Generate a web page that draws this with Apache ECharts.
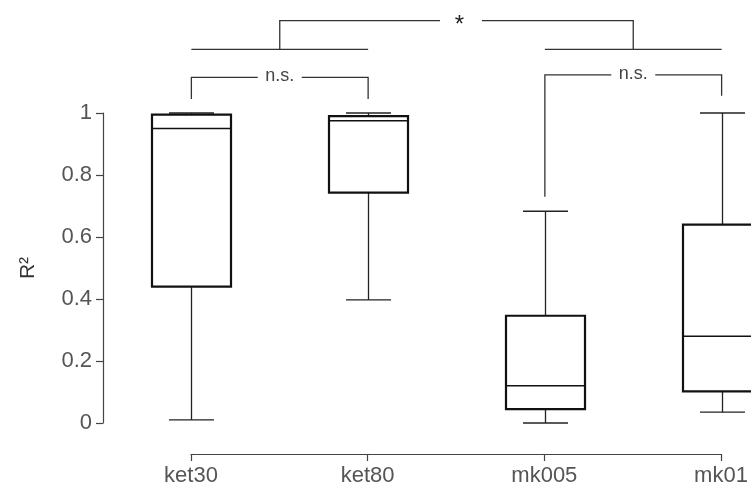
<!DOCTYPE html>
<html>
<head>
<meta charset="utf-8">
<script src="https://cdn.jsdelivr.net/npm/echarts@6/dist/echarts.min.js"></script>
<style>
  html, body { margin: 0; padding: 0; background: #fff; }
  #main { width: 751px; height: 491px; }
</style>
</head>
<body>
<div id="main"></div>
<script>
// box data
const categories = ['ket30', 'ket80', 'mk005', 'mk01'];
const whiskerLow = [0.01, 0.397, 0.0, 0.035];
const q1 = [0.44, 0.743, 0.045, 0.102];
const median = [0.95, 0.975, 0.12, 0.28];
const q3 = [0.995, 0.99, 0.346, 0.64];
const whiskerHigh = [1.0, 1.0, 0.683, 1.0];
const yTicks = [0, 0.2, 0.4, 0.6, 0.8, 1];

// significance brackets (pairs), in data units
const pairLeft = [0, 2];
const pairRight = [1, 3];
const pairLabel = ['n.s.', 'n.s.'];
const pairTop = [1.115, 1.123];
const pairLegLeft = [1.045, 0.73];
const pairLegRight = [1.045, 1.056];
// group comparison (ket vs mk)
const groupLevel = 1.205;
const groupTop = 1.298;
const groupLabel = '*';

const FONT = "'Liberation Sans', Arial, sans-serif";
const LINE = '#333';

var myChart = echarts.init(document.getElementById('main'));

function boxItem(params, api) {
    const x = api.value(0);
    const lo = api.coord([x, api.value(1)]);
    const b1 = api.coord([x, api.value(2)]);
    const md = api.coord([x, api.value(3)]);
    const b3 = api.coord([x, api.value(4)]);
    const hi = api.coord([x, api.value(5)]);
    const band = api.size([1, 0])[0];
    const boxW = band * 0.447;
    const capW = band * 0.255;
    const cx = Math.round(lo[0]) + 0.5;
    const thin = { stroke: '#222', lineWidth: 1.3, fill: null };
    return {
        type: 'group',
        children: [
            { type: 'line', shape: { x1: cx, y1: hi[1], x2: cx, y2: b3[1] }, style: thin },
            { type: 'line', shape: { x1: cx, y1: b1[1], x2: cx, y2: lo[1] }, style: thin },
            { type: 'line', shape: { x1: cx - capW / 2, y1: hi[1], x2: cx + capW / 2, y2: hi[1] }, style: thin },
            { type: 'line', shape: { x1: cx - capW / 2, y1: lo[1], x2: cx + capW / 2, y2: lo[1] }, style: thin },
            {
                type: 'rect',
                shape: { x: cx - boxW / 2, y: b3[1], width: boxW, height: b1[1] - b3[1] },
                style: { stroke: '#111', lineWidth: 2.2, fill: 'rgba(0,0,0,0)' }
            },
            { type: 'line', shape: { x1: cx - boxW / 2, y1: md[1], x2: cx + boxW / 2, y2: md[1] }, style: { stroke: '#111', lineWidth: 1.5 } }
        ]
    };
}

function bracketItem(params, api) {
    const i = params.dataIndex;
    const st = { stroke: LINE, lineWidth: 1.3, fill: null };
    const gap = 22;
    if (i < pairLeft.length) {
        const a = api.coord([pairLeft[i], pairTop[i]]);
        const b = api.coord([pairRight[i], pairTop[i]]);
        const aLow = api.coord([pairLeft[i], pairLegLeft[i]]);
        const bLow = api.coord([pairRight[i], pairLegRight[i]]);
        const mid = (a[0] + b[0]) / 2;
        return {
            type: 'group',
            children: [
                { type: 'polyline', shape: { points: [aLow, a, [mid - gap, a[1]]] }, style: st },
                { type: 'polyline', shape: { points: [[mid + gap, b[1]], b, bLow] }, style: st },
                {
                    type: 'text',
                    style: {
                        x: mid, y: a[1] - 1, text: pairLabel[i], align: 'center', verticalAlign: 'middle',
                        fill: '#444', font: '18px ' + FONT
                    }
                }
            ]
        };
    }
    const g = [0, 1, 2, 3].map(function (k) { return api.coord([k, groupLevel]); });
    const ty = api.coord([0, groupTop])[1];
    const m1 = (g[0][0] + g[1][0]) / 2;
    const m2 = (g[2][0] + g[3][0]) / 2;
    const c = (m1 + m2) / 2 + 4.5;
    return {
        type: 'group',
        children: [
            { type: 'line', shape: { x1: g[0][0], y1: g[0][1], x2: g[1][0], y2: g[1][1] }, style: st },
            { type: 'line', shape: { x1: g[2][0], y1: g[2][1], x2: g[3][0], y2: g[3][1] }, style: st },
            { type: 'polyline', shape: { points: [[m1, g[0][1]], [m1, ty], [c - 21, ty]] }, style: st },
            { type: 'polyline', shape: { points: [[c + 21, ty], [m2, ty], [m2, g[2][1]]] }, style: st },
            {
                type: 'text',
                style: {
                    x: c - 1.5, y: ty + 5, text: groupLabel, align: 'center', verticalAlign: 'middle',
                    fill: '#222', font: '24px ' + FONT
                }
            }
        ]
    };
}

myChart.setOption({
    animation: false,
    backgroundColor: '#fff',
    textStyle: { fontFamily: FONT },
    grid: [
        { left: 103, top: 113, width: 707, height: 310, outerBoundsMode: 'none' },
        { left: 191, top: 113, width: 530, height: 341, outerBoundsMode: 'none' }
    ],
    xAxis: [
        {
            gridIndex: 0,
            type: 'category',
            data: categories,
            boundaryGap: true,
            show: false
        },
        {
            gridIndex: 1,
            type: 'category',
            data: categories,
            boundaryGap: false,
            axisLine: { lineStyle: { color: '#444', width: 1.2 } },
            axisTick: { length: 7, lineStyle: { color: '#444', width: 1.2 } },
            axisLabel: { color: '#555', fontSize: 22, margin: 11, fontFamily: FONT, hideOverlap: false }
        }
    ],
    yAxis: [
        {
            gridIndex: 0,
            type: 'value',
            min: 0,
            max: 1,
            interval: 0.2,
            name: 'R²',
            nameLocation: 'middle',
            nameRotate: 90,
            nameGap: 64,
            nameTextStyle: { color: '#333', fontSize: 21, fontFamily: FONT },
            axisLine: { show: true, lineStyle: { color: '#444', width: 1.2 } },
            axisTick: { show: true, length: 7, lineStyle: { color: '#444', width: 1.2 } },
            splitLine: { show: false },
            axisLabel: {
                color: '#555', fontSize: 22, margin: 11, fontFamily: FONT,
                formatter: function (v) {
                    const t = yTicks.find(function (k) { return Math.abs(k - v) < 1e-9; });
                    return t === undefined ? '' : String(t);
                }
            }
        },
        { gridIndex: 1, type: 'value', show: false }
    ],
    series: [
        {
            type: 'custom',
            xAxisIndex: 0,
            yAxisIndex: 0,
            clip: false,
            renderItem: boxItem,
            encode: { x: 0, y: [1, 2, 3, 4, 5] },
            data: categories.map(function (c, i) {
                return [i, whiskerLow[i], q1[i], median[i], q3[i], whiskerHigh[i]];
            })
        },
        {
            type: 'custom',
            xAxisIndex: 0,
            yAxisIndex: 0,
            clip: false,
            silent: true,
            renderItem: bracketItem,
            encode: { x: 0, y: 1 },
            data: pairLeft.map(function (l, i) { return [l, pairTop[i]]; }).concat([[0, groupTop]])
        }
    ]
});
</script>
</body>
</html>
